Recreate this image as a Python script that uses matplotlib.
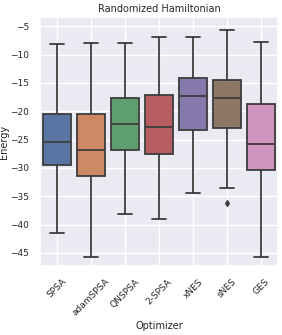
import matplotlib
matplotlib.use("Agg")
import matplotlib.pyplot as plt
import seaborn as sns

sns.set_theme(style="darkgrid")

optimizers = ["SPSA", "adamSPSA", "QNSPSA", "2-SPSA", "xNES", "sNES", "GES"]
whislo = [-41.5, -45.7, -38.2, -39.0, -34.4, -33.6, -45.8]
q1 = [-29.5, -31.5, -26.8, -27.6, -23.4, -23.0, -30.3]
med = [-25.5, -26.9, -22.2, -22.8, -17.4, -17.7, -25.7]
q3 = [-20.5, -20.5, -17.7, -17.1, -14.2, -14.5, -18.7]
whishi = [-8.2, -8.0, -7.9, -7.0, -6.9, -5.6, -7.8]
fliers = [[], [], [], [], [], [-36.2], []]

stats = []
for i, name in enumerate(optimizers):
    stats.append(dict(label=name, whislo=whislo[i], q1=q1[i], med=med[i],
                      q3=q3[i], whishi=whishi[i], fliers=fliers[i]))

colors = [sns.desaturate(c, 0.75) for c in sns.color_palette("deep", len(optimizers))]
line_col = "#3d3d3d"

fig = plt.figure(figsize=(2.82, 3.35), dpi=100)
ax = fig.add_axes([0.142, 0.206, 0.844, 0.743])

bp = ax.bxp(stats, positions=range(len(optimizers)), widths=0.8,
            patch_artist=True, manage_ticks=False,
            boxprops=dict(edgecolor=line_col, linewidth=1.3),
            medianprops=dict(color=line_col, linewidth=1.3),
            whiskerprops=dict(color=line_col, linewidth=1.3),
            capprops=dict(color=line_col, linewidth=1.3),
            flierprops=dict(marker="d", markerfacecolor=line_col,
                            markeredgecolor=line_col, markersize=3))
for patch, c in zip(bp["boxes"], colors):
    patch.set_facecolor(c)

ax.set_xlim(-0.5, len(optimizers) - 0.5)
ax.set_ylim(-47.3, -3.4)
ax.set_yticks([-5, -10, -15, -20, -25, -30, -35, -40, -45])
ax.set_xticks(range(len(optimizers)))
ax.set_xticklabels(optimizers, rotation=45, ha="center")
ax.tick_params(labelsize=6.5, pad=2)
ax.set_xlabel("Optimizer", fontsize=7, labelpad=2)
ax.set_ylabel("Energy", fontsize=7, labelpad=1)
ax.set_title("Randomized Hamiltonian", fontsize=7, pad=4)

fig.savefig("out.png", dpi=100)
